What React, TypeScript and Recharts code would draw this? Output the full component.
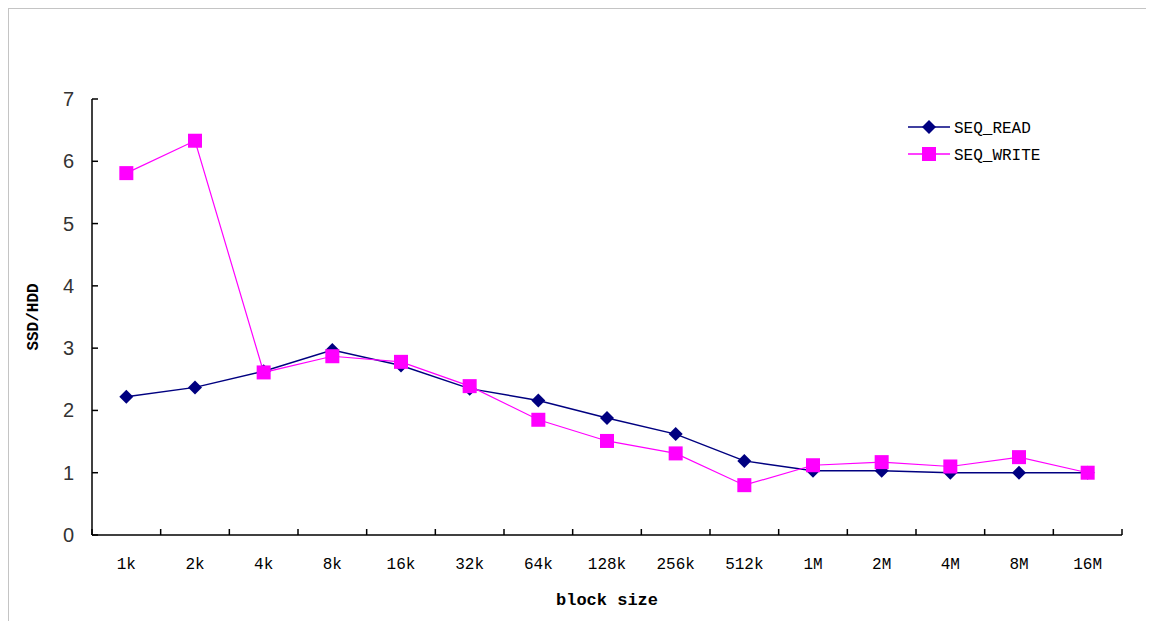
import { LineChart, Line, XAxis, YAxis, Legend, Label } from 'recharts';

const categories = ['1k', '2k', '4k', '8k', '16k', '32k', '64k', '128k', '256k', '512k', '1M', '2M', '4M', '8M', '16M'];
const seqRead = [2.22, 2.37, 2.63, 2.97, 2.72, 2.35, 2.16, 1.88, 1.62, 1.19, 1.03, 1.03, 1.0, 1.0, 1.0];
const seqWrite = [5.81, 6.33, 2.61, 2.87, 2.78, 2.39, 1.85, 1.51, 1.31, 0.8, 1.12, 1.17, 1.1, 1.25, 1.0];
const yTicks = [0, 1, 2, 3, 4, 5, 6, 7];

const READ_COLOR = '#000080';
const WRITE_COLOR = '#ff00ff';
const FONT = '"Liberation Mono", monospace';

// categories sit in the middle of each band, ticks on the band edges (Excel style)
const data = categories.map((name, i) => ({
  x: i + 0.5,
  name,
  read: seqRead[i],
  write: seqWrite[i],
}));
const xTicks: number[] = [];
for (let i = 0; i <= categories.length; i++) {
  xTicks.push(i);
  if (i < categories.length) xTicks.push(i + 0.5);
}

const Diamond = ({ cx, cy }: any) =>
  cx == null ? null : (
    <path d={`M${cx},${cy - 7}L${cx + 7},${cy}L${cx},${cy + 7}L${cx - 7},${cy}Z`} fill={READ_COLOR} />
  );

const Square = ({ cx, cy }: any) =>
  cx == null ? null : <rect x={cx - 7} y={cy - 7} width={14} height={14} fill={WRITE_COLOR} />;

const XTick = ({ x, y, payload }: any) => {
  const v = payload.value;
  if (Number.isInteger(v)) {
    return <line x1={x} y1={y} x2={x} y2={y - 6} stroke="#000" strokeWidth={1.5} />;
  }
  return (
    <text x={x} y={y + 34} textAnchor="middle" fontSize={16} fontFamily={FONT} fill="#000">
      {categories[Math.floor(v)]}
    </text>
  );
};

const YTick = ({ x, y, payload }: any) => (
  <g>
    <line x1={x} y1={y} x2={x + 6} y2={y} stroke="#000" strokeWidth={1.5} />
    <text x={x - 18} y={y + 7} textAnchor="end" fontSize={20} fontFamily='"Liberation Sans", sans-serif' fill="#333">
      {payload.value}
    </text>
  </g>
);

const LegendBox = () => (
  <svg width={160} height={50} style={{ overflow: 'visible' }}>
    <line x1={0} y1={9} x2={42} y2={9} stroke={READ_COLOR} strokeWidth={1.5} />
    <path d="M21,2L28,9L21,16L14,9Z" fill={READ_COLOR} />
    <text x={46} y={15} fontSize={16} fontFamily={FONT} fill="#000">SEQ_READ</text>
    <line x1={0} y1={36} x2={42} y2={36} stroke={WRITE_COLOR} strokeWidth={1.5} />
    <rect x={14} y={29} width={14} height={14} fill={WRITE_COLOR} />
    <text x={46} y={42} fontSize={16} fontFamily={FONT} fill="#000">SEQ_WRITE</text>
  </svg>
);

export default function App() {
  return (
    <div
      style={{
        width: 1145,
        height: 612,
        borderTop: '1px solid #c4c4c4',
        borderLeft: '1px solid #c4c4c4',
        background: '#fff',
      }}
    >
      <LineChart
        width={1136}
        height={603}
        data={data}
        margin={{ top: 90, right: 23, left: 43, bottom: 47 }}
      >
        <XAxis
          dataKey="x"
          type="number"
          domain={[0, categories.length]}
          ticks={xTicks}
          interval={0}
          tickSize={0}
          tickMargin={0}
          tickLine={false}
          tick={<XTick />}
          height={30}
          axisLine={{ stroke: '#000', strokeWidth: 1.5 }}
        >
          <Label
            value="block size"
            position="bottom"
            offset={28}
            style={{ fontFamily: FONT, fontSize: 17, fontWeight: 'bold', fill: '#000' }}
          />
        </XAxis>
        <YAxis
          type="number"
          domain={[0, 7]}
          ticks={yTicks}
          interval={0}
          tickSize={0}
          tickMargin={0}
          tickLine={false}
          tick={<YTick />}
          width={40}
          axisLine={{ stroke: '#000', strokeWidth: 1.5 }}
        >
          <Label
            value="SSD/HDD"
            angle={-90}
            position="left"
            offset={20}
            style={{ fontFamily: FONT, fontSize: 16, fontWeight: 'bold', fill: '#000', textAnchor: 'middle' }}
          />
        </YAxis>
        <Legend
          content={<LegendBox />}
          wrapperStyle={{ position: 'absolute', top: 109, left: 899, width: 160, height: 0, overflow: 'visible' }}
        />
        <Line
          dataKey="read"
          name="SEQ_READ"
          stroke={READ_COLOR}
          strokeWidth={1.5}
          dot={<Diamond />}
          activeDot={false}
          isAnimationActive={false}
        />
        <Line
          dataKey="write"
          name="SEQ_WRITE"
          stroke={WRITE_COLOR}
          strokeWidth={1.2}
          dot={<Square />}
          activeDot={false}
          isAnimationActive={false}
        />
      </LineChart>
    </div>
  );
}
